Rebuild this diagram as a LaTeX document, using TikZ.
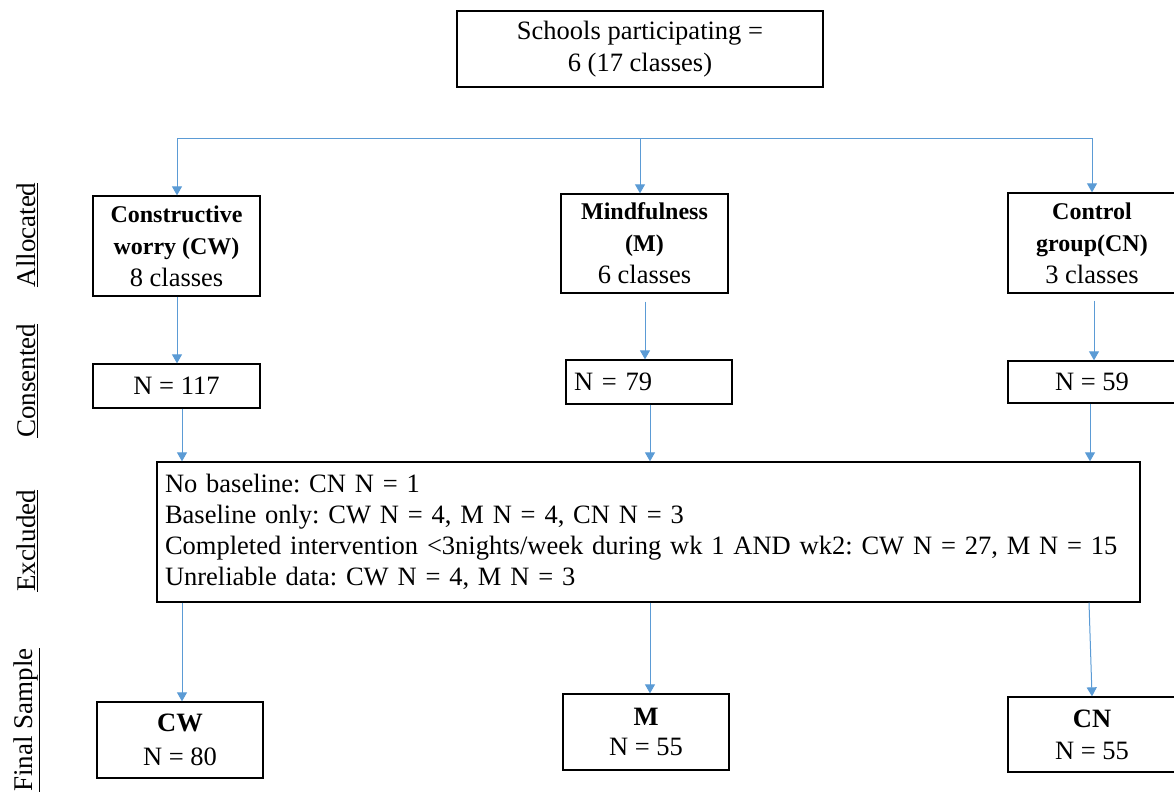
\documentclass[tikz,border=0pt]{standalone}
\usepackage{fontspec}
\setmainfont{Liberation Serif}
\usetikzlibrary{arrows.meta}
\definecolor{arrowblue}{RGB}{91,155,213}
\frenchspacing
\newcommand{\hdfont}{\fontsize{24}{28}\selectfont\bfseries}
\newcommand{\nmfont}{\fontsize{26.5}{30}\selectfont\mdseries}
\tikzset{
  box/.style={draw=black, line width=1.3pt, inner sep=4pt, align=center,
    font=\fontsize{26.5}{32}\selectfont},
  arr/.style={draw=arrowblue, line width=1pt, -{Triangle[length=9pt,width=10pt]}},
  ln/.style={draw=arrowblue, line width=1pt},
  side/.style={rotate=90, font=\fontsize{27}{30}\selectfont, inner sep=0pt}
}
\begin{document}
\begin{tikzpicture}[x=1pt,y=-1pt]
\useasboundingbox (0,0) rectangle (1174,792);
\clip (0,0) rectangle (1174,792);

% top
\node[box, minimum width=366pt, minimum height=76pt] (top) at (640,49)
  {Schools participating =\\6 (17 classes)};

% allocated
\node[box, minimum width=167pt, minimum height=100pt] (cw) at (176.5,246)
  {\hdfont Constructive\\\hdfont worry (CW)\\\nmfont 8 classes};
\node[box, minimum width=167pt, minimum height=99pt] (m) at (644.5,243.5)
  {\hdfont Mindfulness\\\hdfont (M)\\\nmfont 6 classes};
\node[box, minimum width=168pt, minimum height=100pt] (cn) at (1092,243)
  {\hdfont Control\\\hdfont group(CN)\\\nmfont 3 classes};

% consented
\node[box, minimum width=167pt, minimum height=44pt] (n1) at (176.5,386) {N = 117};
\node[box, minimum width=166pt, minimum height=44pt, text width=150pt, align=left] (n2) at (649,382) {N = 79};
\node[box, minimum width=168pt, minimum height=42pt] (n3) at (1092,382) {N = 59};

% excluded
\node[box, minimum width=983pt, minimum height=140pt, inner xsep=8pt,
  text width=967pt, align=left, font=\fontsize{26.5}{31}\selectfont] (ex) at (648.5,532)
  {No baseline: CN N = 1\\
   Baseline only: CW N = 4, M N = 4, CN N = 3\\
   Completed intervention <3nights/week during wk 1 AND wk2: CW N = 27, M N = 15\\
   Unreliable data: CW N = 4, M N = 3};

% final
\node[box, minimum width=166pt, minimum height=76pt] (f1) at (180,740)
  {\bfseries CW\\[2pt]\mdseries N = 80};
\node[box, minimum width=166pt, minimum height=76pt] (f2) at (646,732)
  {\bfseries M\\[-2pt]\mdseries N = 55};
\node[box, minimum width=168pt, minimum height=75pt] (f3) at (1092,734.5)
  {\bfseries CN\\\mdseries N = 55};

% side labels
\node[side] (l1) at (27,235) {\underline{Allocated}};
\node[side] (l2) at (27,381) {\underline{Consented}};
\node[side] (l3) at (27,541) {\underline{Excluded}};
\node[side] (l4) at (27,720) {\underline{Final Sample}};

% connector columns
\coordinate (j1) at (177,138);
\coordinate (j2) at (640,138);
\coordinate (j3) at (1092,138);
\coordinate (k1) at (177,0);
\coordinate (k2) at (645,0);
\coordinate (k3) at (1094,0);
\coordinate (p1) at (182,0);
\coordinate (p2) at (650,0);
\coordinate (p3) at (1090,0);
\coordinate (q3a) at (1089,0);
\coordinate (q3b) at (1092,0);

\draw[ln] (j1) -- (j3);
\draw[arr] (j1) -- (cw.north -| j1);
\draw[arr] (j2) -- (m.north -| j2);
\draw[arr] (j3) -- (cn.north -| j3);

\draw[arr] (cw.south -| k1) -- (n1.north -| k1);
\draw[arr, shorten <=8pt] (m.south -| k2) -- (n2.north -| k2);
\draw[arr, shorten <=7pt] (cn.south -| k3) -- (n3.north -| k3);

\draw[arr] (n1.south -| p1) -- (ex.north -| p1);
\draw[arr] (n2.south -| p2) -- (ex.north -| p2);
\draw[arr] (n3.south -| p3) -- (ex.north -| p3);

\draw[arr] (ex.south -| p1) -- (f1.north -| p1);
\draw[arr] (ex.south -| p2) -- (f2.north -| p2);
\draw[arr] (ex.south -| q3a) -- (f3.north -| q3b);
\end{tikzpicture}
\end{document}
